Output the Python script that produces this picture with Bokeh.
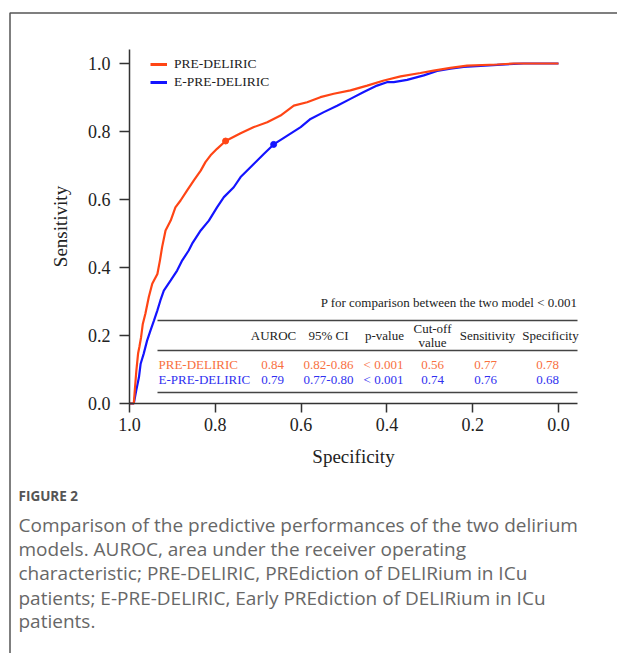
from bokeh.plotting import figure
from bokeh.models import Range1d, FixedTicker, Legend, LegendItem
from bokeh.core.properties import value
from bokeh.embed import file_html
from bokeh.resources import INLINE

# ---------------- data ----------------
red_spec = [1.0, 0.99, 0.988, 0.984, 0.980, 0.977, 0.973, 0.969, 0.963, 0.955, 0.947, 0.935,
            0.929, 0.924, 0.916, 0.904, 0.893, 0.881, 0.866, 0.850, 0.834, 0.823, 0.811, 0.796,
            0.776, 0.741, 0.710, 0.679, 0.648, 0.617, 0.586, 0.555, 0.524, 0.485, 0.446, 0.407,
            0.368, 0.322, 0.291, 0.252, 0.213, 0.143, 0.104, 0.05, 0.0]
red_sens = [0.0, 0.0, 0.033, 0.097, 0.147, 0.166, 0.195, 0.234, 0.264, 0.313, 0.352, 0.381,
            0.421, 0.460, 0.509, 0.538, 0.577, 0.597, 0.626, 0.656, 0.685, 0.710, 0.730, 0.749,
            0.772, 0.795, 0.813, 0.827, 0.847, 0.876, 0.886, 0.901, 0.911, 0.921, 0.935, 0.950,
            0.962, 0.972, 0.979, 0.987, 0.994, 0.997, 1.0, 1.0, 1.0]
blue_spec = [1.0, 0.99, 0.984, 0.978, 0.974, 0.967, 0.959, 0.951, 0.943, 0.935, 0.928, 0.920,
             0.904, 0.889, 0.877, 0.862, 0.854, 0.834, 0.815, 0.796, 0.780, 0.757, 0.741, 0.718,
             0.687, 0.664, 0.632, 0.601, 0.578, 0.547, 0.516, 0.485, 0.454, 0.423, 0.400, 0.384,
             0.353, 0.314, 0.283, 0.252, 0.221, 0.104, 0.081, 0.0]
blue_sens = [0.0, 0.0, 0.040, 0.077, 0.117, 0.146, 0.185, 0.215, 0.244, 0.274, 0.303, 0.332,
             0.362, 0.391, 0.421, 0.450, 0.470, 0.509, 0.538, 0.577, 0.607, 0.636, 0.666, 0.695,
             0.734, 0.762, 0.788, 0.813, 0.837, 0.857, 0.876, 0.896, 0.916, 0.935, 0.945, 0.945,
             0.952, 0.965, 0.978, 0.985, 0.990, 0.999, 1.0, 1.0]
best_spec = [0.776, 0.664]
best_sens = [0.772, 0.762]

models = ["PRE-DELIRIC", "E-PRE-DELIRIC"]
auroc = ["0.84", "0.79"]
ci95 = ["0.82-0.86", "0.77-0.80"]
pvals = ["< 0.001", "< 0.001"]
cutoff = ["0.56", "0.74"]
sensitivity = ["0.77", "0.76"]
specificity = ["0.78", "0.68"]
headers = ["AUROC", "95% CI", "p-value", "Cut-off\nvalue", "Sensitivity", "Specificity"]
p_compare = "P for comparison between the two model < 0.001"

x_ticks = [1.0, 0.8, 0.6, 0.4, 0.2, 0.0]
y_ticks = [0.0, 0.2, 0.4, 0.6, 0.8, 1.0]

caption_head = "FIGURE 2"
caption_lines = [
    "Comparison of the predictive performances of the two delirium",
    "models. AUROC, area under the receiver operating",
    "characteristic; PRE-DELIRIC, PREdiction of DELIRium in ICu",
    "patients; E-PRE-DELIRIC, Early PREdiction of DELIRium in ICu",
    "patients.",
]

# ---------------- layout helpers (page pixel -> data) ----------------
W, H = 617, 653
OFF = 0
X1PX, XPX_PER = 129, 429.0   # spec = 1 at page x 129
Y0PX, YPX_PER = 403, 340.0   # sens = 0 at page y 403


def dx(px):
    return 1 - (px - X1PX) / XPX_PER


def dy(py):
    return (Y0PX - py) / YPX_PER


RED = "#FF4515"
BLUE = "#1414FF"
RED_T = "#F8703E"
BLUE_T = "#3030F0"
SERIF = "Liberation Serif"

p = figure(width=W, height=H, output_backend="svg", toolbar_location=None,
           x_range=Range1d(dx(OFF), dx(OFF + W)), y_range=Range1d(dy(OFF + H), dy(OFF)),
           min_border=0, min_border_left=0, min_border_right=0, min_border_top=0,
           min_border_bottom=0)
p.grid.visible = False
p.outline_line_color = None
p.background_fill_color = "white"
p.border_fill_color = "white"

for ax in [p.xaxis[0], p.yaxis[0]]:
    ax.axis_line_color = "#333333"
    ax.axis_line_width = 1.5
    ax.major_tick_line_color = "#333333"
    ax.major_tick_line_width = 1.5
    ax.minor_tick_line_color = None
    ax.major_tick_in = 0
    ax.major_label_text_font = SERIF
    ax.major_label_text_color = "#222222"
    ax.major_label_text_font_size = "18px"
    ax.axis_label_text_font = SERIF
    ax.axis_label_text_font_style = "normal"
    ax.axis_label_text_color = "#222222"
    ax.axis_label_text_font_size = "19px"

xa = p.xaxis[0]
xa.fixed_location = 0.0
xa.bounds = (-0.045, 1.0)
xa.ticker = FixedTicker(ticks=x_ticks)
xa.major_label_overrides = {t: f"{t:.1f}" for t in x_ticks}
xa.major_tick_out = 9
xa.major_label_standoff = 5
xa.axis_label = "Specificity"
xa.axis_label_standoff = 12

ya = p.yaxis[0]
ya.fixed_location = 1.0
ya.bounds = (0.0, 1.04)
ya.ticker = FixedTicker(ticks=y_ticks)
ya.major_label_overrides = {t: f"{t:.1f}" for t in y_ticks}
ya.major_tick_out = 10
ya.major_label_standoff = 9
ya.axis_label = "Sensitivity"
ya.axis_label_standoff = 14

# ROC curves
rb = p.line(blue_spec, blue_sens, line_color=BLUE, line_width=2.2)
rr = p.line(red_spec, red_sens, line_color=RED, line_width=2.2)
p.scatter(best_spec[:1], best_sens[:1], size=6, color=RED)
p.scatter(best_spec[1:], best_sens[1:], size=6, color=BLUE)

# legend glyph proxies (thicker strokes as in the reference legend), drawn off-canvas
far = dx(W + 50)
lr = p.line([far, far], [0.5, 0.6], line_color=RED, line_width=3)
lb = p.line([far, far], [0.5, 0.6], line_color=BLUE, line_width=3)
legend = Legend(items=[LegendItem(label=models[0], renderers=[lr]),
                       LegendItem(label=models[1], renderers=[lb])],
                location=(150 - OFF, H - (55 - OFF) - 36), padding=0, margin=0, spacing=0,
                glyph_width=17, glyph_height=18, label_height=18, label_standoff=7,
                label_text_font=SERIF, label_text_font_size="13.5px",
                label_text_color="#222222", background_fill_alpha=0,
                border_line_color=None)
p.add_layout(legend)

# ---------------- table ----------------
TF = dict(text_font=value(SERIF), text_font_size="13px", text_baseline="middle")
p.text([dx(577)], [dy(302)], [p_compare], text_align="right", text_color="#222222", **TF)
for ly in [320, 350, 392]:
    p.line([dx(157), dx(577)], [dy(ly), dy(ly)], line_color="#444444", line_width=1.5)

col_x = [273, 328, 384, 432, 487, 550]
val_x = [272, 328, 383, 432, 485, 547]
for cx, h in zip(col_x, headers):
    if "\n" in h:
        a, b = h.split("\n")
        p.text([dx(cx)], [dy(328)], [a], text_align="center", text_color="#222222", **TF)
        p.text([dx(cx)], [dy(342)], [b], text_align="center", text_color="#222222", **TF)
    else:
        p.text([dx(cx)], [dy(335)], [h], text_align="center", text_color="#222222", **TF)

row_y = [364, 379]
row_col = [RED_T, BLUE_T]
for i in range(2):
    p.text([dx(158)], [dy(row_y[i])], [models[i]], text_align="left", text_color=row_col[i], **TF)
    vals = [auroc[i], ci95[i], pvals[i], cutoff[i], sensitivity[i], specificity[i]]
    p.text([dx(v) for v in val_x], [dy(row_y[i])] * 6, vals, text_align="center",
           text_color=row_col[i], **TF)

# ---------------- frame border & caption ----------------
p.line([dx(9.5), dx(9.5), dx(640)], [dy(700), dy(12.5), dy(12.5)], line_color="#555555",
       line_width=1.5)

p.text([dx(18)], [dy(495)], [caption_head], text_font=value("Open Sans"), text_font_size="13.5px",
       text_font_style="bold", text_color="#555555", text_baseline="middle", text_align="left")
cap_y = [524, 548, 572, 597, 620]
p.text([dx(18)] * len(caption_lines), [dy(v) for v in cap_y], caption_lines,
       text_font=value("Open Sans"), text_font_size="19px", text_color="#676767",
       text_baseline="middle", text_align="left")

open("out.html", "w").write(file_html(p, INLINE))
